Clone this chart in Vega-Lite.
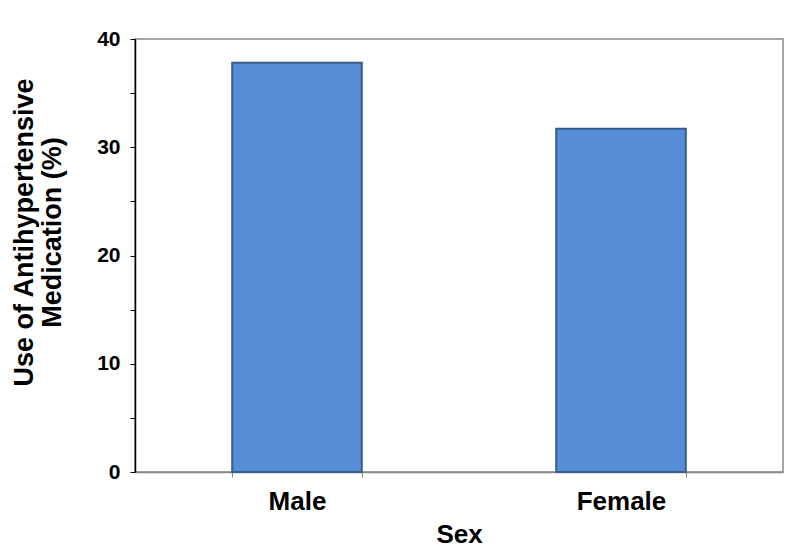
{
  "$schema": "https://vega.github.io/schema/vega-lite/v6.json",
  "autosize": "none",
  "width": 648,
  "height": 433,
  "padding": {"left": 135, "top": 39, "right": 3, "bottom": 82},
  "background": "white",
  "config": {
    "view": {"stroke": "#888888", "strokeWidth": 1.5},
    "font": "Liberation Sans"
  },
  "data": {
    "values": [
      {"Sex": "Male", "Percent": 37.8},
      {"Sex": "Female", "Percent": 31.7}
    ]
  },
  "mark": {
    "type": "bar",
    "fill": "#558ed5",
    "stroke": "#385d8a",
    "strokeWidth": 2
  },
  "encoding": {
    "x": {
      "field": "Sex",
      "type": "nominal",
      "sort": ["Male", "Female"],
      "scale": {"paddingInner": 0.6, "paddingOuter": 0.3},
      "axis": {
        "title": "Sex",
        "labelAngle": 0,
        "labelFont": "Liberation Sans",
        "labelFontSize": 26,
        "labelFontWeight": "bold",
        "labelColor": "black",
        "labelPadding": 11,
        "titleFont": "Liberation Sans",
        "titleFontSize": 26,
        "titleFontWeight": "bold",
        "titleColor": "black",
        "titlePadding": 7,
        "domainColor": "#888888",
        "domainWidth": 1.5,
        "tickColor": "#888888",
        "tickWidth": 1,
        "tickSize": 5,
        "tickBand": "extent",
        "grid": false
      }
    },
    "y": {
      "field": "Percent",
      "type": "quantitative",
      "scale": {"domain": [0, 40], "nice": false},
      "axis": {
        "title": ["Use of Antihypertensive", "Medication (%)"],
        "values": [0, 5, 10, 15, 20, 25, 30, 35, 40],
        "labelExpr": "datum.value % 10 === 0 ? datum.label : ''",
        "labelFont": "Liberation Sans",
        "labelFontSize": 21,
        "labelFontWeight": "bold",
        "labelColor": "black",
        "labelPadding": 10,
        "titleFont": "Liberation Sans",
        "titleFontSize": 27,
        "titleFontWeight": "bold",
        "titleColor": "black",
        "titleLineHeight": 28,
        "titlePadding": 30,
        "titleY": 193,
        "domainColor": "black",
        "domainWidth": 1.5,
        "tickColor": "black",
        "tickWidth": 1,
        "tickSize": 5,
        "grid": false
      }
    }
  }
}
